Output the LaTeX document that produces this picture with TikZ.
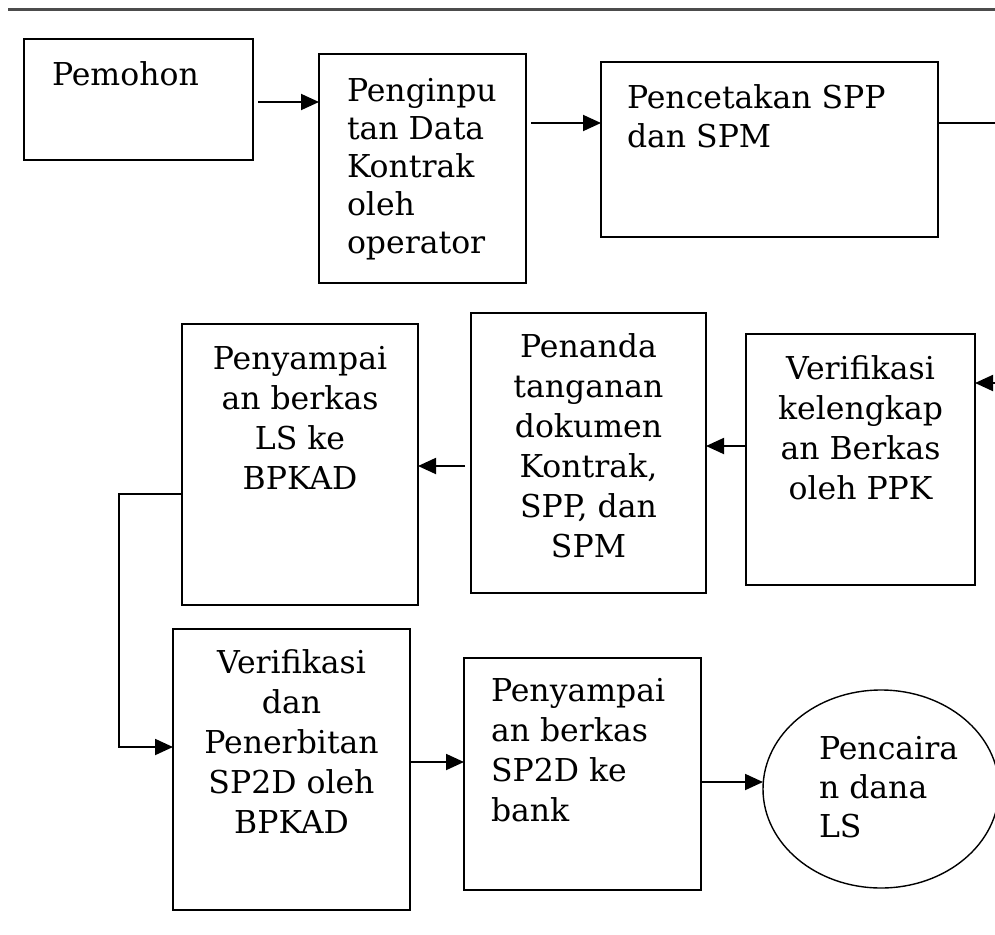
\documentclass[tikz,border=0pt]{standalone}
\usepackage{fontspec}
\setmainfont{DejaVu Serif}
\usetikzlibrary{arrows.meta,shapes.geometric}
\tikzset{
  box/.style={draw=black, line width=1.7pt, inner sep=0pt, outer sep=0pt, fill=none},
  txt/.style={inner sep=0pt, outer sep=0pt, font=\fontsize{31.5}{40}\selectfont, text=black},
  arr/.style={line width=1.9pt, draw=black, -{Triangle[length=18pt,width=16pt]}},
  plainline/.style={line width=1.6pt, draw=black},
  rule/.style={line width=3pt, draw=black!70}
}
\begin{document}
\begin{tikzpicture}[x=1pt,y=-1pt]
\clip (0,0) rectangle (995,934);
\fill[white] (0,0) rectangle (995,934);
% top rule
\draw[rule] (8,10) -- (995,10);

% boxes
\node[box, minimum width=229, minimum height=121] (pemohon) at (138.5,99.5) {};
\node[box, minimum width=207, minimum height=229] (input) at (422.5,168.5) {};
\node[box, minimum width=337, minimum height=175] (cetak) at (769.5,149.5) {};
\node[box, minimum width=229, minimum height=251] (verifA) at (860.5,459.5) {};
\node[box, minimum width=235, minimum height=280] (tanda) at (588.5,453) {};
\node[box, minimum width=236, minimum height=281] (kirimLS) at (300,464.5) {};
\node[box, minimum width=237, minimum height=281] (verifB) at (291.5,769.5) {};
\node[box, minimum width=237, minimum height=232] (kirimSP) at (582.5,774) {};
\node[box, ellipse, line width=1.4pt, minimum width=236, minimum height=198] (cair) at (881,789) {};

% texts
\node[txt, anchor=north west, align=left] (tPemohon) at (52,61.4) {Pemohon};
\node[txt, anchor=north west, align=left, font=\fontsize{31.5}{38}\selectfont] (tInput) at (347,78.4) {Penginpu\\tan Data\\Kontrak\\oleh\\operator};
\node[txt, anchor=north west, align=left, font=\fontsize{31.5}{39}\selectfont] (tCetak) at (627,84.4) {Pencetakan SPP\\dan SPM};
\node[txt, anchor=north, align=center] (tVerifA) at (860.5,355.4) {Verifikasi\\kelengkap\\an Berkas\\oleh PPK};
\node[txt, anchor=north, align=center] (tTanda) at (588.5,333.4) {Penanda\\tanganan\\dokumen\\Kontrak,\\SPP, dan\\SPM};
\node[txt, anchor=north, align=center] (tKirimLS) at (300,346.4) {Penyampai\\an berkas\\LS ke\\BPKAD};
\node[txt, anchor=north, align=center] (tVerifB) at (291.5,649.4) {Verifikasi\\dan\\Penerbitan\\SP2D oleh\\BPKAD};
\node[txt, anchor=north west, align=left] (tKirimSP) at (491,678.4) {Penyampai\\an berkas\\SP2D ke\\bank};
\node[txt, anchor=north west, align=left, font=\fontsize{31.5}{39}\selectfont] (tCair) at (819,736.4) {Pencaira\\n dana\\LS};

% connectors
\coordinate (edgeA) at (995,123);
\coordinate (edgeB) at (995,383);
\draw[arr] ([shift={(5,2.5)}]pemohon.east) coordinate (p1) -- (p1 -| input.west);
\draw[arr] ([shift={(5,-45.5)}]input.east) coordinate (p2) -- (p2 -| cetak.west);
\draw[plainline] (edgeA -| cetak.east) -- (edgeA);
\draw[arr] (edgeB) -- (edgeB -| verifA.east);
\draw[arr] ([shift={(0,-13.5)}]verifA.west) coordinate (p3) -- (p3 -| tanda.east);
\draw[arr] ([shift={(-6,13)}]tanda.west) coordinate (p4) -- (p4 -| kirimLS.east);
\draw[arr] ([shift={(0,29.5)}]kirimLS.west) -- ++(-63,0) |- ([shift={(0,-22.5)}]verifB.west);
\draw[arr] ([shift={(0,-7.5)}]verifB.east) coordinate (p5) -- (p5 -| kirimSP.west);
\draw[arr] ([shift={(0,8)}]kirimSP.east) coordinate (p6) -- (p6 -| cair.west);
\end{tikzpicture}
\end{document}
